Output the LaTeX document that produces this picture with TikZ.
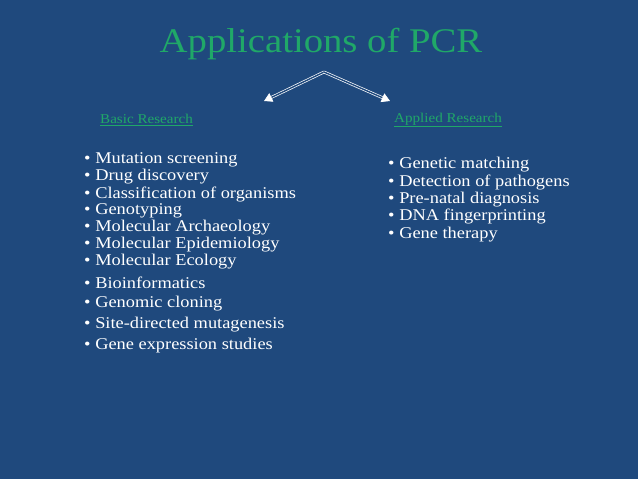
\documentclass[tikz,border=0pt]{standalone}
\usepackage{fontspec}
\setmainfont{Liberation Serif}[FakeStretch=1.12]
\usetikzlibrary{arrows.meta}
\definecolor{slideblue}{RGB}{31,73,125}
\definecolor{titlegreen}{RGB}{32,168,104}
\tikzset{
  item/.style={anchor=west, text=white, font=\fontsize{14}{15}\selectfont, inner sep=0pt},
  headlabel/.style={anchor=west, text=titlegreen, font=\fontsize{11.5}{12}\selectfont, inner sep=0pt},
  branch/.style={white, double=slideblue, double distance=1.2pt, line width=0.6pt, -{Triangle[length=7pt,width=8pt]}}
}
\begin{document}
\begin{tikzpicture}[x=0.03cm, y=-0.03cm]
  \fill[slideblue] (0,0) rectangle (638,479);
  \node[text=titlegreen, font=\fontsize{29.5}{31}\selectfont, inner sep=0pt] (title) at (321,44) {Applications of PCR};
  \coordinate (fork) at (324,72);
  \node[headlabel] (basic) at (100,120) {\underline{Basic Research}};
  \node[headlabel] (applied) at (394,120) {\underline{Applied Research}};
  \coordinate (basictip) at (264,101);
  \coordinate (appliedtip) at (390,101);
  \draw[branch] (fork) -- (basictip);
  \draw[branch] (fork) -- (appliedtip);
  % basic research list
  \foreach \txt [count=\i] in {Mutation screening, Drug discovery, Classification of organisms, Genotyping, Molecular Archaeology, Molecular Epidemiology, Molecular Ecology}
    \node[item] (b\i) at (84,160+17*\i-17) {\textbullet\ \txt};
  \foreach \txt [count=\i] in {Bioinformatics, Genomic cloning, Site-directed mutagenesis, Gene expression studies}
    \node[item] (c\i) at (84,283+21*\i-21) {\textbullet\ \txt};
  % applied research list
  \foreach \txt [count=\i] in {Genetic matching, Detection of pathogens, Pre-natal diagnosis, DNA fingerprinting, Gene therapy}
    \node[item] (a\i) at (388,165+17.3*\i-17.3) {\textbullet\ \txt};
\end{tikzpicture}
\end{document}
